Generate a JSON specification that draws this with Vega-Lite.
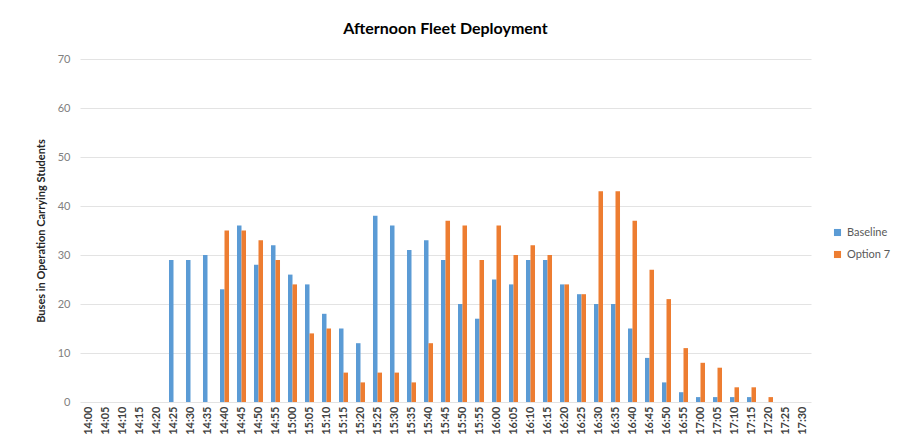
{
  "$schema": "https://vega.github.io/schema/vega-lite/v6.json",
  "width": 731,
  "height": 343,
  "autosize": {"type": "none"},
  "padding": {"left": 80, "top": 59, "right": 94, "bottom": 45},
  "background": "white",
  "title": {"text": "Afternoon Fleet Deployment", "font": "Lato", "fontSize": 16, "fontWeight": "bold", "color": "#000000", "anchor": "middle", "offset": 16},
  "data": {"values": [
    {"t":"14:00","s":"Baseline","v":0},{"t":"14:00","s":"Option 7","v":0},
    {"t":"14:05","s":"Baseline","v":0},{"t":"14:05","s":"Option 7","v":0},
    {"t":"14:10","s":"Baseline","v":0},{"t":"14:10","s":"Option 7","v":0},
    {"t":"14:15","s":"Baseline","v":0},{"t":"14:15","s":"Option 7","v":0},
    {"t":"14:20","s":"Baseline","v":0},{"t":"14:20","s":"Option 7","v":0},
    {"t":"14:25","s":"Baseline","v":29},{"t":"14:25","s":"Option 7","v":0},
    {"t":"14:30","s":"Baseline","v":29},{"t":"14:30","s":"Option 7","v":0},
    {"t":"14:35","s":"Baseline","v":30},{"t":"14:35","s":"Option 7","v":0},
    {"t":"14:40","s":"Baseline","v":23},{"t":"14:40","s":"Option 7","v":35},
    {"t":"14:45","s":"Baseline","v":36},{"t":"14:45","s":"Option 7","v":35},
    {"t":"14:50","s":"Baseline","v":28},{"t":"14:50","s":"Option 7","v":33},
    {"t":"14:55","s":"Baseline","v":32},{"t":"14:55","s":"Option 7","v":29},
    {"t":"15:00","s":"Baseline","v":26},{"t":"15:00","s":"Option 7","v":24},
    {"t":"15:05","s":"Baseline","v":24},{"t":"15:05","s":"Option 7","v":14},
    {"t":"15:10","s":"Baseline","v":18},{"t":"15:10","s":"Option 7","v":15},
    {"t":"15:15","s":"Baseline","v":15},{"t":"15:15","s":"Option 7","v":6},
    {"t":"15:20","s":"Baseline","v":12},{"t":"15:20","s":"Option 7","v":4},
    {"t":"15:25","s":"Baseline","v":38},{"t":"15:25","s":"Option 7","v":6},
    {"t":"15:30","s":"Baseline","v":36},{"t":"15:30","s":"Option 7","v":6},
    {"t":"15:35","s":"Baseline","v":31},{"t":"15:35","s":"Option 7","v":4},
    {"t":"15:40","s":"Baseline","v":33},{"t":"15:40","s":"Option 7","v":12},
    {"t":"15:45","s":"Baseline","v":29},{"t":"15:45","s":"Option 7","v":37},
    {"t":"15:50","s":"Baseline","v":20},{"t":"15:50","s":"Option 7","v":36},
    {"t":"15:55","s":"Baseline","v":17},{"t":"15:55","s":"Option 7","v":29},
    {"t":"16:00","s":"Baseline","v":25},{"t":"16:00","s":"Option 7","v":36},
    {"t":"16:05","s":"Baseline","v":24},{"t":"16:05","s":"Option 7","v":30},
    {"t":"16:10","s":"Baseline","v":29},{"t":"16:10","s":"Option 7","v":32},
    {"t":"16:15","s":"Baseline","v":29},{"t":"16:15","s":"Option 7","v":30},
    {"t":"16:20","s":"Baseline","v":24},{"t":"16:20","s":"Option 7","v":24},
    {"t":"16:25","s":"Baseline","v":22},{"t":"16:25","s":"Option 7","v":22},
    {"t":"16:30","s":"Baseline","v":20},{"t":"16:30","s":"Option 7","v":43},
    {"t":"16:35","s":"Baseline","v":20},{"t":"16:35","s":"Option 7","v":43},
    {"t":"16:40","s":"Baseline","v":15},{"t":"16:40","s":"Option 7","v":37},
    {"t":"16:45","s":"Baseline","v":9},{"t":"16:45","s":"Option 7","v":27},
    {"t":"16:50","s":"Baseline","v":4},{"t":"16:50","s":"Option 7","v":21},
    {"t":"16:55","s":"Baseline","v":2},{"t":"16:55","s":"Option 7","v":11},
    {"t":"17:00","s":"Baseline","v":1},{"t":"17:00","s":"Option 7","v":8},
    {"t":"17:05","s":"Baseline","v":1},{"t":"17:05","s":"Option 7","v":7},
    {"t":"17:10","s":"Baseline","v":1},{"t":"17:10","s":"Option 7","v":3},
    {"t":"17:15","s":"Baseline","v":1},{"t":"17:15","s":"Option 7","v":3},
    {"t":"17:20","s":"Baseline","v":0},{"t":"17:20","s":"Option 7","v":1},
    {"t":"17:25","s":"Baseline","v":0},{"t":"17:25","s":"Option 7","v":0},
    {"t":"17:30","s":"Baseline","v":0},{"t":"17:30","s":"Option 7","v":0}
  ]},
  "mark": {"type": "bar"},
  "encoding": {
    "x": {"field": "t", "type": "nominal", "sort": null,
      "scale": {"paddingInner": 0.47, "paddingOuter": 0.235},
      "axis": {"title": null, "labelAngle": -90, "labelFont": "Lato", "labelFontSize": 11, "labelFontWeight": "bold", "labelColor": "#404040", "ticks": false, "domain": false, "labelPadding": 4, "grid": false}},
    "xOffset": {"field": "s", "type": "nominal", "scale": {"paddingInner": 0, "paddingOuter": 0}},
    "y": {"field": "v", "type": "quantitative",
      "scale": {"domain": [0, 70], "nice": false},
      "axis": {"title": "Buses in Operation Carrying Students", "titleFont": "Lato", "titleFontSize": 11, "titleFontWeight": "bold", "titleColor": "#262626", "titlePadding": 11,
        "values": [0,10,20,30,40,50,60,70], "labelFont": "Lato", "labelFontSize": 11, "labelColor": "#808080", "ticks": false, "domain": false, "labelPadding": 10,
        "gridColor": "#e3e3e3", "gridWidth": 1}},
    "color": {"field": "s", "type": "nominal",
      "scale": {"domain": ["Baseline", "Option 7"], "range": ["#5B9BD5", "#ED7D31"]},
      "legend": {"title": null, "orient": "none", "legendX": 752, "legendY": 168, "symbolType": "square", "symbolSize": 50, "labelFont": "Lato", "labelFontSize": 11, "labelColor": "#595959", "rowPadding": 10}}
  },
  "config": {"view": {"stroke": null}}
}
